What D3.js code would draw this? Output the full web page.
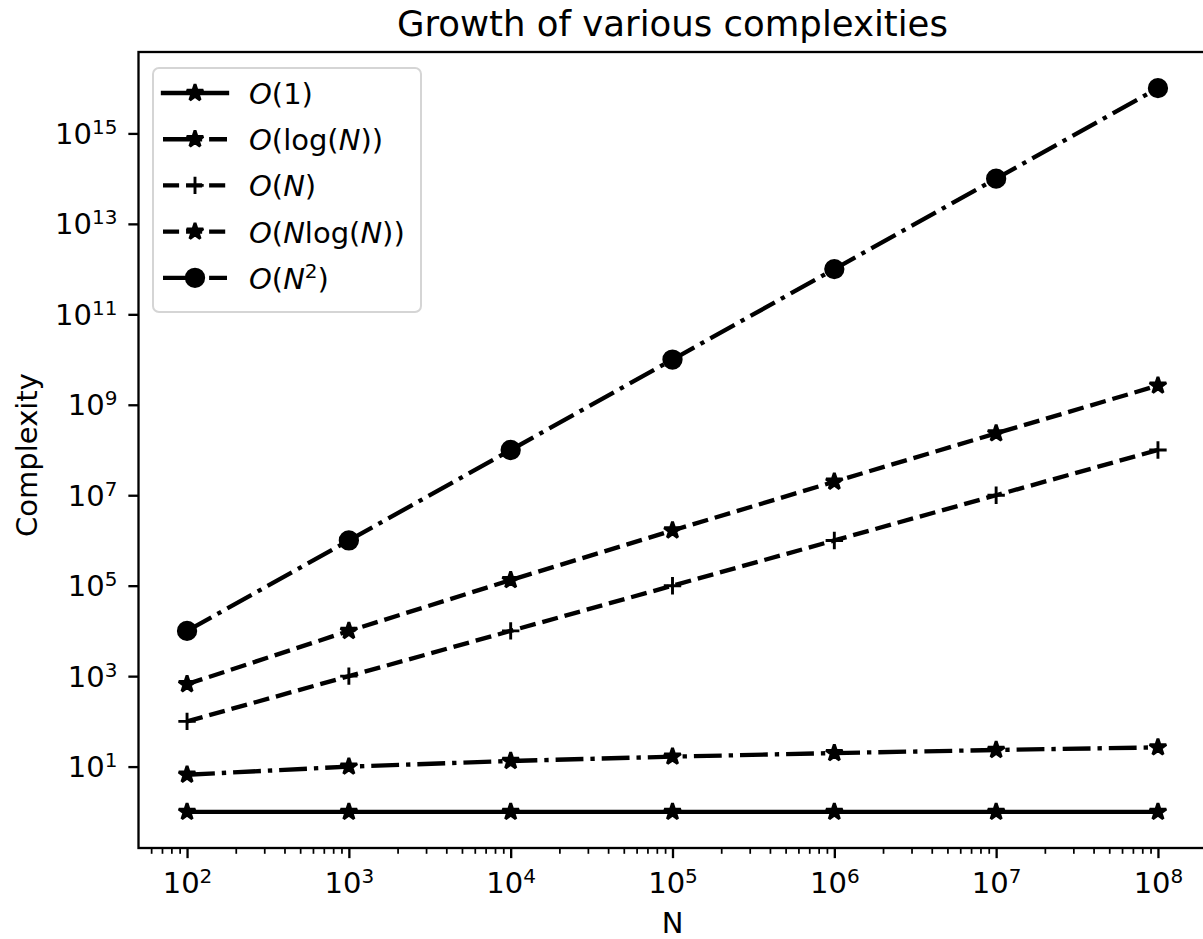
<!DOCTYPE html>
<html>
<head>
<meta charset="utf-8">
<script src="https://cdn.jsdelivr.net/npm/d3@7"></script>
<style>
  body { margin: 0; background: #fff; }
  svg { display: block; font-family: 'DejaVu Sans', sans-serif; }
</style>
</head>
<body>
<script>
// values
const nValues = [1e2, 1e3, 1e4, 1e5, 1e6, 1e7, 1e8]
const constantValues = [1, 1, 1, 1, 1, 1, 1]
const logValues = [6.6, 10, 13.3, 16.6, 19.9, 23.3, 26.6]
const linearValues = [1e2, 1e3, 1e4, 1e5, 1e6, 1e7, 1e8]
const nLogValues = [664, 9970, 1.33e5, 1.66e6, 1.99e7, 2.33e8, 2.66e9]
const quadraticValues = [1e4, 1e6, 1e8, 1e10, 1e12, 1e14, 1e16]

const xTicks = [1e2, 1e3, 1e4, 1e5, 1e6, 1e7, 1e8]
const yTicks = [1e1, 1e3, 1e5, 1e7, 1e9, 1e11, 1e13, 1e15]

// legend labels as [text, italic] pieces, 'sup' marks a superscript
const labels = [
  [['O', true], ['(1)', false]],
  [['O', true], ['(log(', false], ['N', true], ['))', false]],
  [['O', true], ['(', false], ['N', true], [')', false]],
  [['O', true], ['(', false], ['N', true], ['log(', false], ['N', true], ['))', false]],
  [['O', true], ['(', false], ['N', true], ['2', 'sup'], [')', false]]
]

const seriesValues = [constantValues, logValues, linearValues, nLogValues, quadraticValues]

const pt = 2.9
const lw = 1.5 * pt
const dashed = [3.7 * lw, 1.6 * lw]
const dashdot = [6.4 * lw, 1.6 * lw, 1 * lw, 1.6 * lw]
const styles = [
  { dash: null, marker: 'star' },
  { dash: dashdot, marker: 'star' },
  { dash: dashed, marker: 'plus' },
  { dash: dashed, marker: 'star' },
  { dash: dashdot, marker: 'circle' }
]

const W = 1203
const H = 939
const box = { left: 138.5, right: 1206.5, top: 52, bottom: 848 }

const svg = d3.select('body').append('svg')
  .attr('width', W)
  .attr('height', H)

const x = d3.scaleLog()
  .domain([Math.pow(10, 1.7), Math.pow(10, 8.3)])
  .range([box.left, box.right])

const y = d3.scaleLog()
  .domain([Math.pow(10, -0.8), Math.pow(10, 16.8)])
  .range([box.bottom, box.top])

const fontSize = 29
const supSize = 20

function powLabel (sel, d) {
  const e = Math.round(Math.log10(d))
  sel.text(null)
  sel.append('tspan').text('10')
  sel.append('tspan').attr('font-size', supSize).attr('dy', -10).text(e)
}

// minor x ticks
const minor = []
for (let e = 1; e <= 8; e++) {
  for (let m = 2; m <= 9; m++) {
    const v = m * Math.pow(10, e)
    if (v > x.domain()[0] && v < x.domain()[1]) minor.push(v)
  }
}

const gMinor = svg.append('g')
  .attr('transform', `translate(0,${box.bottom})`)
  .call(d3.axisBottom(x).tickValues(minor).tickSize(2 * pt).tickFormat(''))
gMinor.select('.domain').remove()
gMinor.selectAll('line').attr('stroke', '#000').attr('stroke-width', 0.6 * pt)

const gx = svg.append('g')
  .attr('transform', `translate(0,${box.bottom})`)
  .call(d3.axisBottom(x).tickValues(xTicks).tickSize(3.5 * pt).tickPadding(10))
gx.select('.domain').remove()
gx.selectAll('line').attr('stroke', '#000').attr('stroke-width', 0.8 * pt)
gx.selectAll('text')
  .attr('y', 45)
  .attr('dy', null)
  .attr('font-size', fontSize)
  .attr('font-family', 'DejaVu Sans')
  .attr('fill', '#000')
  .each(function (d) { powLabel(d3.select(this), d) })

const gy = svg.append('g')
  .attr('transform', `translate(${box.left},0)`)
  .call(d3.axisLeft(y).tickValues(yTicks).tickSize(3.5 * pt).tickPadding(10))
gy.select('.domain').remove()
gy.selectAll('line').attr('stroke', '#000').attr('stroke-width', 0.8 * pt)
gy.selectAll('text')
  .attr('x', -3.5 * pt - 11)
  .attr('dy', null)
  .attr('y', 10)
  .attr('font-size', fontSize)
  .attr('font-family', 'DejaVu Sans')
  .attr('fill', '#000')
  .each(function (d) { powLabel(d3.select(this), d) })

// spines
svg.append('rect')
  .attr('x', box.left)
  .attr('y', box.top)
  .attr('width', box.right - box.left)
  .attr('height', box.bottom - box.top)
  .attr('fill', 'none')
  .attr('stroke', '#000')
  .attr('stroke-width', 0.8 * pt)

function starPath (R) {
  const r = R * 0.381966
  const pts = []
  for (let i = 0; i < 10; i++) {
    const a = -Math.PI / 2 + i * Math.PI / 5
    const rad = i % 2 === 0 ? R : r
    pts.push([rad * Math.cos(a), rad * Math.sin(a)])
  }
  return 'M' + pts.map(p => p.join(',')).join('L') + 'Z'
}

function drawMarker (g, type, cx, cy) {
  const R = 3 * pt
  if (type === 'star') {
    g.append('path')
      .attr('d', starPath(R))
      .attr('transform', `translate(${cx},${cy})`)
      .attr('fill', '#000')
      .attr('stroke', '#000')
      .attr('stroke-width', pt)
      .attr('stroke-linejoin', 'bevel')
  } else if (type === 'circle') {
    g.append('circle')
      .attr('cx', cx)
      .attr('cy', cy)
      .attr('r', R)
      .attr('fill', '#000')
      .attr('stroke', '#000')
      .attr('stroke-width', pt)
  } else {
    g.append('path')
      .attr('d', `M${cx - R},${cy}H${cx + R}M${cx},${cy - R}V${cy + R}`)
      .attr('stroke', '#000')
      .attr('stroke-width', pt)
      .attr('fill', 'none')
  }
}

const line = d3.line()
  .x(d => x(d[0]))
  .y(d => y(d[1]))

const plot = svg.append('g')
seriesValues.forEach((vals, i) => {
  const pts = nValues.map((n, j) => [n, vals[j]])
  const g = plot.append('g')
  g.append('path')
    .datum(pts)
    .attr('d', line)
    .attr('fill', 'none')
    .attr('stroke', '#000')
    .attr('stroke-width', lw)
    .attr('stroke-dasharray', styles[i].dash ? styles[i].dash.join(',') : null)
    .attr('stroke-linecap', styles[i].dash ? 'butt' : 'square')
  pts.forEach(p => drawMarker(g, styles[i].marker, x(p[0]), y(p[1])))
})

// legend
const legend = svg.append('g')
legend.append('rect')
  .attr('x', 153)
  .attr('y', 68)
  .attr('width', 268)
  .attr('height', 244)
  .attr('rx', 6)
  .attr('fill', 'rgba(255,255,255,0.8)')
  .attr('stroke', '#d5d5d5')
  .attr('stroke-width', 2)

labels.forEach((parts, i) => {
  const cy = 93 + i * 46.2
  const g = legend.append('g')
  g.append('line')
    .attr('x1', 163)
    .attr('x2', 227)
    .attr('y1', cy)
    .attr('y2', cy)
    .attr('stroke', '#000')
    .attr('stroke-width', lw)
    .attr('stroke-dasharray', styles[i].dash ? styles[i].dash.join(',') : null)
    .attr('stroke-linecap', styles[i].dash ? 'butt' : 'square')
  drawMarker(g, styles[i].marker, 195, cy)
  const t = g.append('text')
    .attr('x', 249)
    .attr('y', cy + 11)
    .attr('font-size', fontSize)
    .attr('fill', '#000')
  let raised = false
  parts.forEach(([s, kind]) => {
    const ts = t.append('tspan').text(s)
    if (kind === true) ts.attr('font-style', 'italic')
    if (kind === 'sup') {
      ts.attr('font-size', supSize).attr('dy', -11)
      raised = true
    } else if (raised) {
      ts.attr('dy', 11)
      raised = false
    }
  })
})

// title and axis labels
svg.append('text')
  .attr('x', (box.left + box.right) / 2)
  .attr('y', 36)
  .attr('text-anchor', 'middle')
  .attr('font-size', 35.5)
  .attr('fill', '#000')
  .text('Growth of various complexities')

svg.append('text')
  .attr('x', (box.left + box.right) / 2)
  .attr('y', 933)
  .attr('text-anchor', 'middle')
  .attr('font-size', fontSize)
  .attr('fill', '#000')
  .text('N')

svg.append('text')
  .attr('transform', `translate(37,${(box.top + box.bottom) / 2 + 5}) rotate(-90)`)
  .attr('text-anchor', 'middle')
  .attr('font-size', fontSize)
  .attr('fill', '#000')
  .text('Complexity')
</script>
</body>
</html>
